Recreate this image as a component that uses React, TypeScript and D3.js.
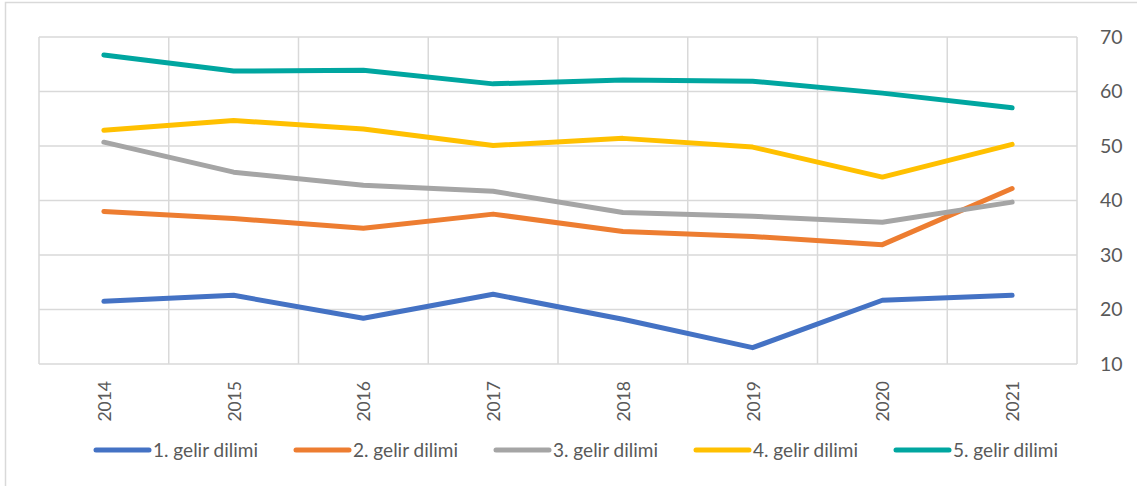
import React from 'react';
import * as d3 from 'd3';

const years = ['2014', '2015', '2016', '2017', '2018', '2019', '2020', '2021'];
const yTicks = [10, 20, 30, 40, 50, 60, 70];

const dilim1 = [21.5, 22.6, 18.4, 22.8, 18.2, 13.0, 21.7, 22.6];
const dilim2 = [38.0, 36.7, 34.9, 37.5, 34.3, 33.4, 31.9, 42.2];
const dilim3 = [50.7, 45.2, 42.8, 41.7, 37.8, 37.1, 36.0, 39.7];
const dilim4 = [52.9, 54.7, 53.1, 50.1, 51.4, 49.8, 44.3, 50.3];
const dilim5 = [66.7, 63.75, 63.9, 61.4, 62.1, 61.9, 59.7, 57.0];

const seriesNames = ['1. gelir dilimi', '2. gelir dilimi', '3. gelir dilimi', '4. gelir dilimi', '5. gelir dilimi'];
const seriesColors = ['#4472C4', '#ED7D31', '#A5A5A5', '#FFC000', '#00A6A0'];

const W = 1137;
const H = 486;
const margin = { top: 37, right: 60, bottom: 122, left: 39 };
const font = 'Lato, "Open Sans", sans-serif';

export default function App() {
  const innerW = W - margin.left - margin.right;
  const innerH = H - margin.top - margin.bottom;

  const x = d3.scaleBand<string>().domain(years).range([0, innerW]);
  const y = d3.scaleLinear().domain([10, 70]).range([innerH, 0]);

  const allSeries = [dilim1, dilim2, dilim3, dilim4, dilim5];
  const line = d3.line<number>()
    .x((_, i) => (x(years[i]) ?? 0) + x.bandwidth() / 2)
    .y(d => y(d));

  const grid = '#D9D9D9';

  return (
    <svg width={W} height={H} style={{ position: 'absolute', left: 0, top: 0, fontFamily: font }}>
      <rect x={5.5} y={2.5} width={W} height={H} fill="#fff" stroke={grid} strokeWidth={1.5} />
      <g transform={`translate(${margin.left},${margin.top})`}>
        {/* horizontal gridlines */}
        {yTicks.map(t => (
          <line key={t} x1={0} x2={innerW} y1={y(t)} y2={y(t)} stroke={grid} strokeWidth={1.5} />
        ))}
        {/* vertical category gridlines */}
        {years.map(yr => (
          <line key={yr} x1={x(yr)} x2={x(yr)} y1={0} y2={innerH} stroke={grid} strokeWidth={1.5} />
        ))}
        <line x1={innerW} x2={innerW} y1={0} y2={innerH} stroke={grid} strokeWidth={1.5} />

        {/* right axis labels */}
        {yTicks.map(t => (
          <text key={t} x={innerW + 23} y={y(t)} dy="0.35em" fontSize={19.5} fill="#595959">{t}</text>
        ))}

        {/* x labels rotated */}
        {years.map(yr => (
          <text
            key={yr}
            transform={`translate(${(x(yr) ?? 0) + x.bandwidth() / 2 + 7},${innerH + 17}) rotate(-90)`}
            textAnchor="end"
            fontSize={17.5}
            fill="#595959"
          >{yr}</text>
        ))}

        {allSeries.map((s, i) => (
          <path key={i} d={line(s) ?? ''} fill="none" stroke={seriesColors[i]} strokeWidth={5}
            strokeLinejoin="round" strokeLinecap="round" />
        ))}
      </g>

      {/* legend */}
      <g transform="translate(96,450)">
        {seriesNames.map((n, i) => (
          <g key={n} transform={`translate(${i * 200},0)`}>
            <line x1={0} x2={53} y1={0} y2={0} stroke={seriesColors[i]} strokeWidth={5} strokeLinecap="round" />
            <text x={57} y={0} dy="0.35em" fontSize={19} fill="#595959">{n}</text>
          </g>
        ))}
      </g>
    </svg>
  );
}
